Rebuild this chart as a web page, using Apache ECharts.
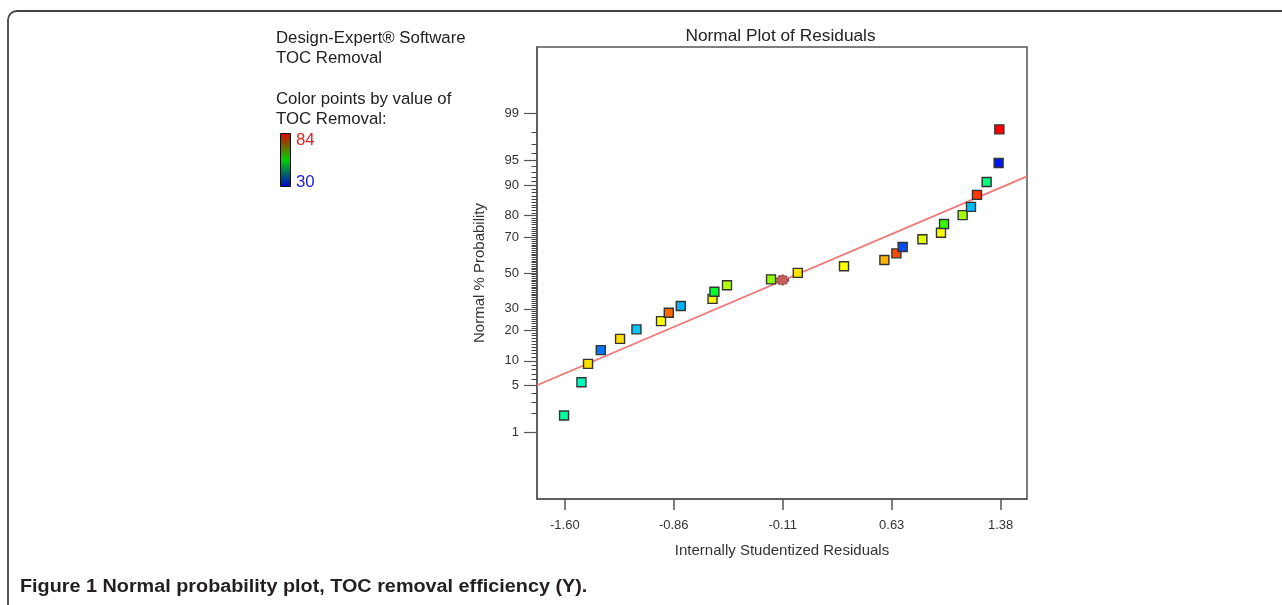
<!DOCTYPE html>
<html>
<head>
<meta charset="utf-8">
<script src="https://cdn.jsdelivr.net/npm/echarts@6/dist/echarts.min.js"></script>
<style>
html,body{margin:0;padding:0;background:#fff;}
#chart{width:1282px;height:605px;}
</style>
</head>
<body>
<div id="chart"></div>
<script>
// ---- data ----
const xTickValues = [-1.60, -0.855, -0.11, 0.635, 1.38];
const xTickLabels = ['-1.60', '-0.86', '-0.11', '0.63', '1.38'];
const yTickPercents = [1, 5, 10, 20, 30, 50, 70, 80, 90, 95, 99];
const yMinorPercents = [2,3,4,6,7,8,9,11,12,13,14,15,16,17,18,19,21,22,23,24,25,26,27,28,29,31,32,33,34,35,36,37,38,39,40,41,42,43,44,45,46,47,48,49,51,52,53,54,55,56,57,58,59,60,61,62,63,64,65,66,67,68,69,71,72,73,74,75,76,77,78,79,81,82,83,84,85,86,87,88,89,91,92,93,94,96,97,98];
const residuals = [-1.605,-1.486,-1.441,-1.354,-1.222,-1.110,-0.942,-0.889,-0.807,-0.590,-0.577,-0.491,-0.190,-0.007,0.309,0.585,0.667,0.710,0.845,0.972,0.993,1.120,1.177,1.218,1.284,1.366,1.371];
const normalProb = [1.87,5.54,9.23,12.99,16.8,20.5,24.1,28.1,31.5,35.3,39.2,42.9,46.3,50.1,53.9,57.5,61.3,64.8,68.9,72.2,76.3,80.1,83.3,87.3,90.8,94.6,98.2];
const tocRemoval = [48.7,46.9,72.1,36.3,72.5,40.6,70.5,78.4,39.4,71.0,54.8,66.5,64.7,72.0,70.5,74.5,80.2,34.0,68.9,70.5,59.7,65.6,39.9,81.0,50.2,31.0,84.0];
const centerPoint = [-0.112, 45.9];
const fitLine = [[-1.79, 5.06], [1.56, 92.1]];
const colorRange = [30, 84];

// inverse normal CDF (probability scale)
function probit(p) {
  const a=[-3.969683028665376e+01,2.209460984245205e+02,-2.759285104469687e+02,1.383577518672690e+02,-3.066479806614716e+01,2.506628277459239e+00];
  const b=[-5.447609879822406e+01,1.615858368580409e+02,-1.556989798598866e+02,6.680131188771972e+01,-1.328068155288572e+01];
  const c=[-7.784894002430293e-03,-3.223964580411365e-01,-2.400758277161838e+00,-2.549732539343734e+00,4.374664141464968e+00,2.938163982698783e+00];
  const d=[7.784695709041462e-03,3.224671290700398e-01,2.445134137142996e+00,3.754408661907416e+00];
  const pl=0.02425, ph=1-pl;
  let q,r;
  if (p<pl){q=Math.sqrt(-2*Math.log(p));return (((((c[0]*q+c[1])*q+c[2])*q+c[3])*q+c[4])*q+c[5])/((((d[0]*q+d[1])*q+d[2])*q+d[3])*q+1);}
  if (p<=ph){q=p-0.5;r=q*q;return (((((a[0]*r+a[1])*r+a[2])*r+a[3])*r+a[4])*r+a[5])*q/(((((b[0]*r+b[1])*r+b[2])*r+b[3])*r+b[4])*r+1);}
  q=Math.sqrt(-2*Math.log(1-p));return -(((((c[0]*q+c[1])*q+c[2])*q+c[3])*q+c[4])*q+c[5])/((((d[0]*q+d[1])*q+d[2])*q+d[3])*q+1);
}
const z = pct => probit(pct / 100);

const yMajorZ = yTickPercents.map(z);
const yMinorZ = yMinorPercents.map(z);
const scatterData = residuals.map((r, i) => [r, z(normalProb[i]), tocRemoval[i]]);
const lineData = fitLine.map(p => [p[0], z(p[1])]);
const centerData = [[centerPoint[0], z(centerPoint[1])]];

const FONT = "'Liberation Sans', Arial, sans-serif";
const chart = echarts.init(document.getElementById('chart'), null, {renderer: 'canvas'});

const axisGray = '#555';
chart.setOption({
  animation: false,
  backgroundColor: '#fff',
  grid: {left: 537, top: 47, width: 490, height: 452, show: true, borderColor: axisGray, borderWidth: 1.5, backgroundColor: 'transparent'},
  xAxis: {
    type: 'value', min: -1.79, max: 1.56,
    name: 'Internally Studentized Residuals', nameLocation: 'middle', nameGap: 44,
    nameTextStyle: {fontFamily: FONT, fontSize: 15, color: '#333'},
    axisLine: {show: true, onZero: false, lineStyle: {color: axisGray, width: 1.5}},
    axisTick: {show: true, length: 11, customValues: xTickValues, lineStyle: {color: axisGray, width: 1.5}},
    axisLabel: {customValues: xTickValues, margin: 20, fontFamily: FONT, fontSize: 13, color: '#333',
      formatter: v => { let k = 0, best = 1e9; xTickValues.forEach((t,i)=>{ if (Math.abs(t-v)<best){best=Math.abs(t-v);k=i;} }); return xTickLabels[k]; }},
    splitLine: {show: false}
  },
  yAxis: [{
    type: 'value', min: -3.3, max: 3.3,
    name: 'Normal % Probability', nameLocation: 'middle', nameGap: 50, nameRotate: 90,
    nameTextStyle: {fontFamily: FONT, fontSize: 15, color: '#333'},
    axisLine: {show: true, onZero: false, lineStyle: {color: axisGray, width: 1.5}},
    axisTick: {show: true, length: 13, customValues: yMajorZ, lineStyle: {color: axisGray, width: 1.2}},
    axisLabel: {customValues: yMajorZ, margin: 18, fontFamily: FONT, fontSize: 13, color: '#333',
      formatter: v => { let k = 0, best = 1e9; yMajorZ.forEach((t,i)=>{ if (Math.abs(t-v)<best){best=Math.abs(t-v);k=i;} }); return String(yTickPercents[k]); }},
    splitLine: {show: false}
  }, {
    type: 'value', min: -3.3, max: 3.3, position: 'left',
    axisLine: {show: false, onZero: false},
    axisTick: {show: true, length: 5.5, customValues: yMinorZ, lineStyle: {color: '#444', width: 1}},
    axisLabel: {show: false},
    splitLine: {show: false}
  }],
  visualMap: {
    show: false, type: 'continuous', min: colorRange[0], max: colorRange[1], dimension: 2, seriesIndex: 1,
    inRange: {color: ['#0000ff', '#00ffff', '#00ff00', '#ffff00', '#ff0000']}
  },
  series: [{
    type: 'line', data: lineData, symbol: 'none', silent: true,
    lineStyle: {color: '#f07878', width: 1.8}, z: 1
  }, {
    type: 'scatter', data: scatterData, symbol: 'rect', symbolSize: 9,
    itemStyle: {borderColor: '#333', borderWidth: 1.4, opacity: 1}, z: 2
  }, {
    type: 'scatter', data: centerData, symbol: 'circle', symbolSize: [12, 10],
    itemStyle: {color: '#c25f5a', borderColor: '#6a3030', borderWidth: 1, borderType: [2, 1.5], opacity: 1}, z: 3
  }],
  graphic: [
    {type: 'line', shape: {x1: 8, y1: 605, x2: 8, y2: 20}, style: {stroke: '#444', lineWidth: 1.8}},
    {type: 'arc', shape: {cx: 17, cy: 20, r: 9, startAngle: Math.PI, endAngle: Math.PI * 1.5}, style: {stroke: '#444', lineWidth: 1.8, fill: null}},
    {type: 'line', shape: {x1: 17, y1: 11, x2: 1282, y2: 11}, style: {stroke: '#444', lineWidth: 1.8}},
    {type: 'text', x: 780.5, y: 36, style: {text: 'Normal Plot of Residuals', font: '17.3px ' + FONT, fill: '#222', align: 'center', verticalAlign: 'middle'}},
    {type: 'text', x: 276, y: 38, style: {text: 'Design-Expert® Software', font: '16.8px ' + FONT, fill: '#222', verticalAlign: 'middle'}},
    {type: 'text', x: 276, y: 58, style: {text: 'TOC Removal', font: '16.8px ' + FONT, fill: '#222', verticalAlign: 'middle'}},
    {type: 'text', x: 276, y: 99.5, style: {text: 'Color points by value of', font: '16.8px ' + FONT, fill: '#222', verticalAlign: 'middle'}},
    {type: 'text', x: 276, y: 119.5, style: {text: 'TOC Removal:', font: '16.8px ' + FONT, fill: '#222', verticalAlign: 'middle'}},
    {type: 'rect', shape: {x: 280.5, y: 133.5, width: 10, height: 53},
      style: {stroke: '#111', lineWidth: 1, fill: {type: 'linear', x: 0, y: 0, x2: 0, y2: 1, colorStops: [
        {offset: 0, color: '#e00000'}, {offset: 0.5, color: '#00d000'}, {offset: 1, color: '#0000d0'}]}}},
    {type: 'text', x: 296, y: 140, style: {text: String(colorRange[1]), font: '16.8px ' + FONT, fill: '#e82020', verticalAlign: 'middle'}},
    {type: 'text', x: 296, y: 182, style: {text: String(colorRange[0]), font: '16.8px ' + FONT, fill: '#2020e0', verticalAlign: 'middle'}},
    {type: 'text', x: 20, y: 587.5, scaleX: 1.1, style: {text: 'Figure 1 Normal probability plot, TOC removal efficiency (Y).', font: 'bold 18px ' + FONT, fill: '#231f20', verticalAlign: 'middle'}}
  ]
});
</script>
</body>
</html>
